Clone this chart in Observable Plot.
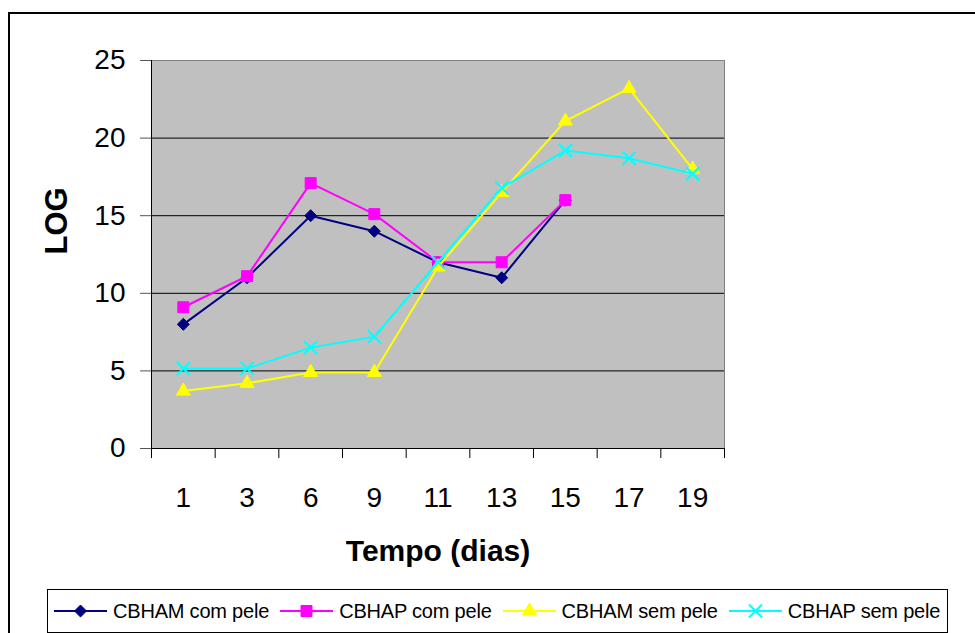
<!DOCTYPE html>
<html><head><meta charset="utf-8">
<script src="https://cdn.jsdelivr.net/npm/d3@7"></script>
<script src="https://cdn.jsdelivr.net/npm/@observablehq/plot@0.6"></script>
<style>
body{margin:0;background:#fff;overflow:hidden;}
#wrap{position:relative;width:975px;height:633px;overflow:hidden;font-family:Arial,"Liberation Sans",sans-serif;background:#fff;}
#chart{position:absolute;left:0;top:0;}
#outer{position:absolute;left:8px;top:12px;width:1100px;height:800px;border:2px solid #000;box-sizing:border-box;pointer-events:none;}
#legend{position:absolute;left:47px;top:589px;width:901px;height:44px;border:1px solid #000;box-sizing:border-box;display:flex;align-items:center;padding-left:6px;background:#fff;}
.item{display:flex;align-items:center;margin-right:11px;}
.item svg{margin-right:6px;display:block;}
.item span{font-size:20px;letter-spacing:-0.2px;white-space:nowrap;color:#000;}
</style></head>
<body>
<div id="wrap"><div id="chart"></div><div id="legend"></div><div id="outer"></div></div>
<script>
const days = ["1","3","6","9","11","13","15","17","19"];
const seriesNames = ["CBHAM com pele","CBHAP com pele","CBHAM sem pele","CBHAP sem pele"];
const cbhamCom = [8, 11, 15, 14, 12, 11, 16, null, null];
const cbhapCom = [9.1, 11.1, 17.1, 15.1, 12, 12, 16, null, null];
const cbhamSem = [3.7, 4.2, 4.9, 4.9, 11.7, 16.5, 21.1, 23.2, 18];
const cbhapSem = [5.15, 5.15, 6.5, 7.2, 12, 16.8, 19.2, 18.7, 17.7];
const yTicks = [0, 5, 10, 15, 20, 25];
const colors = ["#000080", "#ff00ff", "#ffff00", "#00ffff"];
const symbols = ["diamond2", "square", "triangle", "times"];
const radii = [5.4, 6.2, 5.2, 6];

const values = [cbhamCom, cbhapCom, cbhamSem, cbhapSem];
const data = [];
values.forEach((arr, s) => arr.forEach((v, i) => {
  if (v != null) data.push({series: seriesNames[s], idx: i, day: days[i], value: v});
}));
const xPos = d => d.idx + 0.5;

const marks = [
  Plot.frame({fill: "#c0c0c0", stroke: "#808080"}),
  Plot.gridY({ticks: yTicks.filter(t => t > 0 && t < 25), stroke: "#000", strokeOpacity: 1}),
  Plot.ruleX([0], {stroke: "#000"}),
  Plot.ruleY([0], {stroke: "#000"}),
  Plot.axisY({ticks: yTicks, tickSize: 11, tickPadding: 15, fontSize: 28, label: null, stroke: "#555"}),
  Plot.axisX({ticks: d3.range(days.length + 1), tickSize: 10, tickFormat: () => "", label: null}),
  Plot.axisX({ticks: days.map((d, i) => i + 0.5), tickSize: 0, tickPadding: 39, fontSize: 28,
    tickFormat: v => days[Math.floor(v)], label: null}),
  Plot.text(["LOG"], {frameAnchor: "left", dx: -94, rotate: -90, fontSize: 31, fontWeight: "bold", fill: "#000"}),
  Plot.text(["Tempo (dias)"], {frameAnchor: "bottom", dy: 102.6, fontSize: 30, fontWeight: "bold", fill: "#000", lineAnchor: "middle"})
];
seriesNames.forEach((name, s) => {
  const rows = data.filter(d => d.series === name);
  marks.push(Plot.line(rows, {x: xPos, y: "value", stroke: colors[s], strokeWidth: 2}));
  marks.push(Plot.dot(rows, {
    x: xPos, y: "value", symbol: () => symbols[s], r: radii[s],
    fill: s === 3 ? "none" : colors[s], stroke: colors[s], strokeWidth: s === 3 ? 2 : 1
  }));
});

const chart = Plot.plot({
  width: 975, height: 589,
  marginLeft: 151, marginRight: 251, marginTop: 60, marginBottom: 141,
  x: {type: "linear", domain: [0, days.length], axis: null},
  y: {domain: [0, 25], axis: null},
  symbol: {type: "identity"},
  style: {fontFamily: "Arial, 'Liberation Sans', sans-serif", background: "transparent", color: "#000", overflow: "visible"},
  marks
});
document.getElementById("chart").appendChild(chart);

// Legend
const legend = d3.select("#legend");
const d3Symbols = [d3.symbolDiamond2, d3.symbolSquare, d3.symbolTriangle, d3.symbolTimes];
seriesNames.forEach((name, s) => {
  const item = legend.append("div").attr("class", "item");
  const svg = item.append("svg").attr("width", 53).attr("height", 20);
  svg.append("line").attr("x1", 0).attr("x2", 53).attr("y1", 10).attr("y2", 10)
    .attr("stroke", colors[s]).attr("stroke-width", 2);
  const size = Math.PI * radii[s] * radii[s];
  svg.append("path").attr("transform", "translate(26.5,10)")
    .attr("d", d3.symbol(d3Symbols[s], size)())
    .attr("fill", s === 3 ? "none" : colors[s])
    .attr("stroke", colors[s]).attr("stroke-width", s === 3 ? 2 : 1);
  item.append("span").text(name);
});
</script>
</body></html>
